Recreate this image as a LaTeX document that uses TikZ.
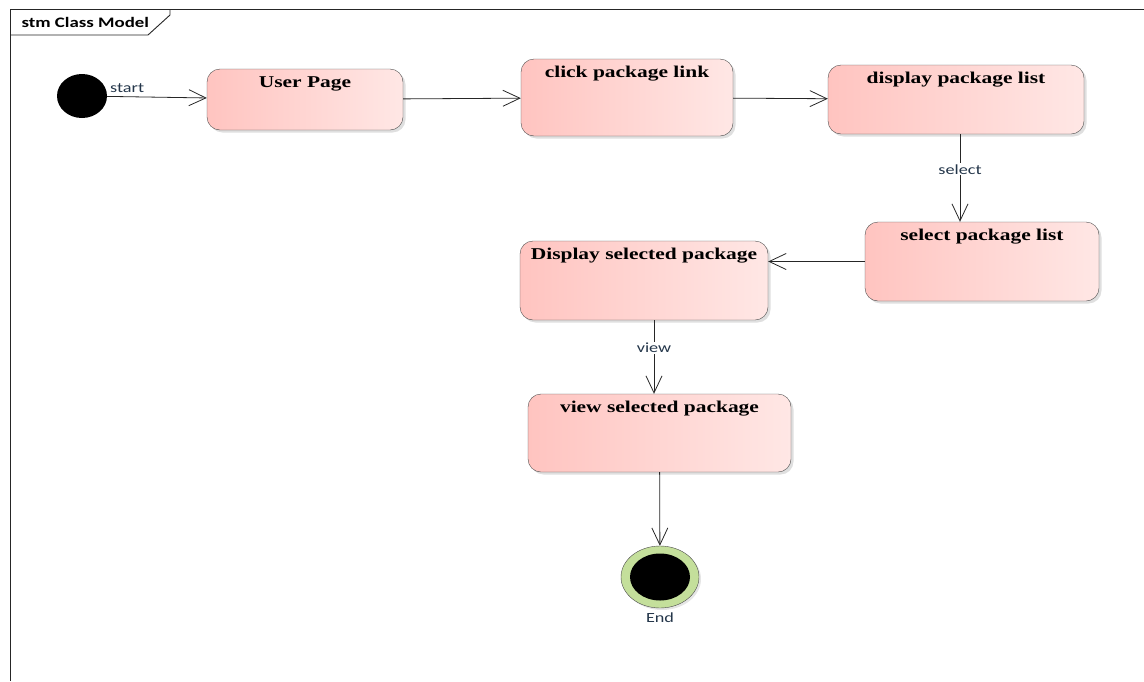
\documentclass[tikz,border=0pt]{standalone}
\usepackage{fontspec}
\usepackage{tikz}
\usetikzlibrary{positioning,calc,arrows.meta,shapes.geometric,shadows}
\newfontfamily\boxfont[FakeStretch=1.3]{Liberation Serif}
\newfontfamily\lblfont[FakeStretch=1.3]{Carlito}
\definecolor{stateL}{HTML}{FFC4C0}
\definecolor{stateR}{HTML}{FFE7E5}
\definecolor{endgreen}{HTML}{C4DF9B}
\definecolor{lblblue}{HTML}{24364A}

\begin{document}
\begin{tikzpicture}[x=1pt,y=-1pt,>={Straight Barb[length=17pt,width=16pt]},
		stbox/.style n args={2}{draw=black!70, rounded corners=13pt, left color=stateL, right color=stateR,
			drop shadow={shadow xshift=2.5pt,shadow yshift=-2.5pt,fill=black!25},
			inner sep=0pt, minimum width=#1pt, minimum height=#2pt},
		sttext/.style={anchor=north, yshift=-4pt, font=\boxfont\bfseries\fontsize{16.5}{19}\selectfont},
		lbl/.style={font=\lblfont\fontsize{14}{17}\selectfont, text=lblblue},
		conn/.style={black!85, line width=0.8pt},
	]
		\useasboundingbox (0,0) rectangle (1144,681);
		% frame
		\draw[black!85, line width=0.9pt] (1144,9) -- (10,9) -- (10,681);
		\draw[black!85, line width=0.9pt] (10,35) -- (148,35) -- (170,15) -- (170,9);
		\node[anchor=base west, font=\lblfont\bfseries\fontsize{14.5}{17}\selectfont] (title) at (18,27) {stm Class Model};

		\node[ellipse, fill=black, inner sep=0pt, minimum width=50pt, minimum height=44pt] (init) at (82,96) {};
		\node[stbox={196}{61}, label={[sttext]north:User Page}] (user) at (305,99.5) {};
		\node[stbox={212}{77}, label={[sttext]north:click package link}] (click) at (627,97.5) {};
		\node[stbox={256}{69}, label={[sttext]north:display package list}] (disp) at (956,99.5) {};
		\node[stbox={234}{79}, label={[sttext]north:select package list}] (sel) at (982,261.5) {};
		\node[stbox={248}{79}, label={[sttext]north:Display selected package}] (dsel) at (644,280.5) {};
		\node[stbox={263}{78}, label={[sttext]north:view selected package}] (view) at (659.5,433) {};
		\node[ellipse, draw=black!70, fill=endgreen, inner sep=0pt, minimum width=78pt, minimum height=62pt,
			drop shadow={shadow xshift=2pt,shadow yshift=-2pt,fill=black!20},
			label={[lbl, label distance=1pt]below:End}] (fin) at (660,577) {};
		\node[ellipse, fill=black, inner sep=0pt, minimum width=60pt, minimum height=47pt] (finc) at (fin) {};

		\path[->, conn]
			(init) edge node[lbl, above, pos=0.2] {start} (user)
			(user) edge (click)
			(click) edge (disp)
			([xshift=4pt]disp.south) edge node[lbl, fill=white, inner sep=1pt, pos=0.4] {select} ([xshift=4pt]disp.south |- sel.north)
			(sel.west) edge (sel.west -| dsel.east)
			([xshift=10pt]dsel.south) edge node[lbl, fill=white, inner sep=1pt, pos=0.38] {view} ([xshift=10pt]dsel.south |- view.north)
			(view) edge (fin)
		;
	\end{tikzpicture}
\end{document}
